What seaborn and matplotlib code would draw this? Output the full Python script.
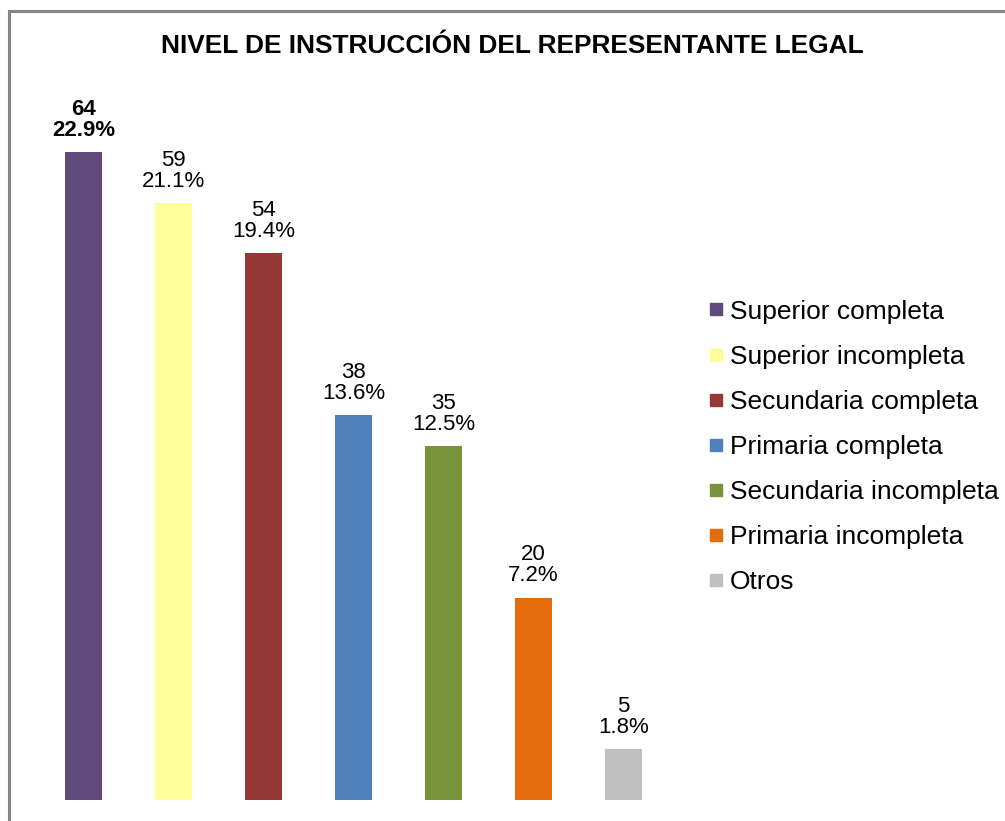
import matplotlib
matplotlib.use("Agg")
import matplotlib.pyplot as plt
from matplotlib.lines import Line2D
from matplotlib.patches import Rectangle
import seaborn as sns
import pandas as pd

# Data
categories = ["Superior completa", "Superior incompleta", "Secundaria completa",
              "Primaria completa", "Secundaria incompleta", "Primaria incompleta", "Otros"]
counts = [64, 59, 54, 38, 35, 20, 5]
percents = ["22.9%", "21.1%", "19.4%", "13.6%", "12.5%", "7.2%", "1.8%"]
colors = ["#604A7B", "#FFFF99", "#953735", "#4F81BD", "#77933C", "#E46C0A", "#BFBFBF"]

df = pd.DataFrame({"nivel": categories, "n": counts})

sns.set_style("white")
plt.rcParams["font.family"] = ["Liberation Sans", "DejaVu Sans"]
plt.rcParams["text.color"] = "black"

fig = plt.figure(figsize=(10.05, 8.21), dpi=100)
W, H = 1005, 821
# axes placed in pixel terms: bars spaced 90 px, baseline at y=800
ax = fig.add_axes([38.5 / W, (H - 800) / H, 630 / W, 708.75 / H])

sns.barplot(data=df, x="nivel", y="n", hue="nivel", palette=colors,
            width=0.41, legend=False, ax=ax, saturation=1, linewidth=0)
ax.set_xlim(-0.5, 6.5)
ax.set_ylim(0, 70)
ax.set_axis_off()

# data labels
for i, (n, p) in enumerate(zip(counts, percents)):
    ax.annotate(f"{n}\n{p}", xy=(i, n), xytext=(0, 8), textcoords="offset points",
                ha="center", va="bottom", fontsize=16, linespacing=1.0,
                fontweight="bold" if i == 0 else "normal", color="black")

fig.text(512 / W, 1 - 46 / H, "NIVEL DE INSTRUCCIÓN DEL REPRESENTANTE LEGAL",
         ha="center", va="center", fontsize=18.9, fontweight="bold", color="black")

handles = [Line2D([0], [0], marker="s", linestyle="none", markersize=8.6,
                  markerfacecolor=c, markeredgecolor=c) for c in colors]
fig.legend(handles, categories, loc="center left",
           bbox_to_anchor=(709 / W, 1 - 447 / H), bbox_transform=fig.transFigure,
           frameon=False, fontsize=19, handlelength=0.53, handletextpad=0.25,
           borderpad=0, borderaxespad=0, labelspacing=0.8, labelcolor="black")

# gray frame (only left and top edges visible in the crop)
fig.patches.append(Rectangle((8.5 / W, -0.1), 1.2, 1 - 11.5 / H + 0.1,
                             transform=fig.transFigure, fill=False,
                             edgecolor="#868686", linewidth=2.2))

fig.savefig("out.png", dpi=100)
